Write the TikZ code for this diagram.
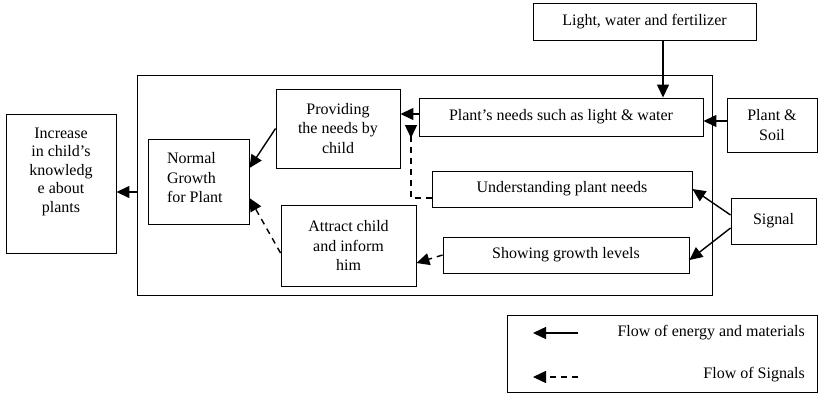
\documentclass[tikz,border=0pt]{standalone}
\usepackage{fontspec}
\setmainfont{Liberation Serif}
\usetikzlibrary{arrows.meta}
\tikzset{
  box/.style={draw, line width=0.9pt, inner sep=0pt, align=center,
    font=\fontsize{16pt}{19.5pt}\selectfont},
  txt/.style={inner sep=0pt, font=\fontsize{16pt}{19.5pt}\selectfont},
  flow/.style={line width=1.4pt, -{Triangle[length=13pt,width=12pt]}},
  sig/.style={line width=1.4pt, dash pattern=on 6pt off 5pt, -{Triangle[length=13pt,width=12pt]}},
}
\begin{document}
\begin{tikzpicture}[x=1pt,y=-1pt]
\useasboundingbox (0,0) rectangle (818,394);
% outer frame
\node[box, minimum width=575pt, minimum height=220pt] (outer) at (424.5,185) {};
% boxes
\node[box, minimum width=110pt, minimum height=139pt] (inc) at (61,183.5)
  {\parbox[c][139pt][t]{110pt}{\centering\baselineskip=18.5pt\vspace*{14pt}Increase\\ in child’s\\ knowledg\\ e about\\ plants}};
\node[box, minimum width=101pt, minimum height=85pt] (ng) at (198.5,181.5)
  {\parbox[c][85pt][c]{101pt}{\raggedright\leftskip=19pt\relax Normal\\ Growth\\ for Plant\par\vspace{7pt}}};
\node[box, minimum width=223pt, minimum height=37pt] (light) at (644.5,21.5) {Light, water and fertilizer};
\node[box, minimum width=284pt, minimum height=38pt] (pneeds) at (561,117) {Plant’s needs such as light \& water};
\node[box, minimum width=90pt, minimum height=54pt] (soil) at (772,125) {Plant \&\\ Soil};
\node[box, minimum width=124pt, minimum height=79pt] (prov) at (338,128.5) {Providing\\ the needs by\\ child};
\node[box, minimum width=260pt, minimum height=36pt] (under) at (562,189) {Understanding plant needs};
\node[box, minimum width=246pt, minimum height=36pt] (show) at (566,255) {Showing growth levels};
\node[box, minimum width=135pt, minimum height=81pt] (attr) at (348.5,245.5) {Attract child\\ and inform\\ him};
\node[box, minimum width=85pt, minimum height=46pt] (signal) at (773.5,221) {Signal};
% legend
\node[box, minimum width=310pt, minimum height=77pt] (legend) at (662,353.5) {};
\node[txt, anchor=east] (leg1) at (805,333) {Flow of energy and materials};
\node[txt, anchor=east] (leg2) at (805,375) {Flow of Signals};
\coordinate (l1a) at (578,333);
\coordinate (l1b) at (533,333);
\coordinate (l2a) at (578,377);
\coordinate (l2b) at (533,377);
\draw[flow] (l1a) -- (l1b);
\draw[sig] (l2a) -- (l2b);
% connectors
\draw[flow] ([xshift=18.5pt]light.south) -- ([xshift=18.5pt]light.south |- pneeds.north);
\draw[flow] ([yshift=4pt]soil.west) -- ([yshift=4pt]soil.west -| pneeds.east);
\draw[flow] ([yshift=3pt]pneeds.west) -- ([yshift=3pt]pneeds.west -| prov.east);
\draw[flow] (prov.west) -- ([yshift=13.5pt]ng.east);
\draw[sig] ([yshift=-7.5pt]attr.west) -- ([yshift=-16.5pt]ng.east);
\draw[sig] (show.west) -- ([yshift=-17.5pt]attr.east);
\draw[flow] ([yshift=6pt]signal.west) -- (under.east);
\draw[flow] ([yshift=-7pt]signal.west) -- ([yshift=-5pt]show.east);
\draw[flow] ([yshift=-7pt]outer.west) -- ([yshift=-7pt]outer.west -| inc.east);
\coordinate (sigtop) at (411,125);
\draw[line width=1.4pt, dash pattern=on 6pt off 5pt, {Triangle[reversed,length=13pt,width=12pt]}-] (sigtop) |- ([yshift=-9pt]under.west);
\end{tikzpicture}
\end{document}
